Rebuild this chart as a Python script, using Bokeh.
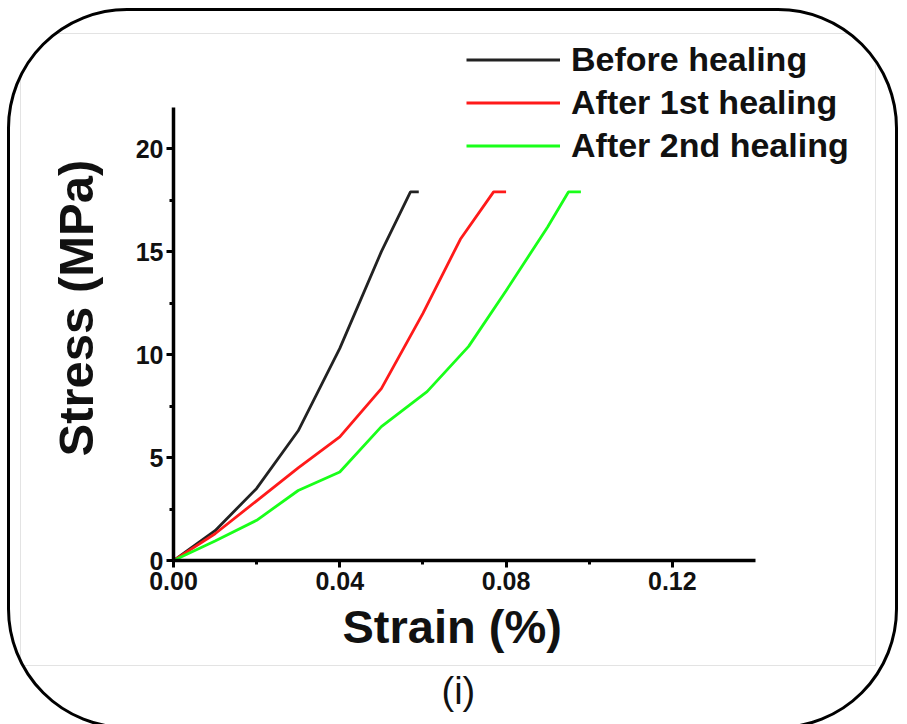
from bokeh.plotting import figure
from bokeh.models import (Range1d, FixedTicker, NumeralTickFormatter, Legend, LegendItem, Title,
                          GlobalInlineStyleSheet)
from bokeh.embed import file_html
from bokeh.resources import INLINE

# ---- data ----
before_x = [0.0, 0.010, 0.020, 0.030, 0.040, 0.050, 0.057, 0.059]
before_y = [0.0, 1.45, 3.5, 6.3, 10.3, 15.0, 17.9, 17.9]

first_x = [0.0, 0.010, 0.020, 0.030, 0.040, 0.050, 0.060, 0.069, 0.077, 0.080]
first_y = [0.0, 1.3, 2.9, 4.5, 6.0, 8.35, 12.0, 15.6, 17.9, 17.9]

second_x = [0.0, 0.010, 0.020, 0.030, 0.040, 0.050, 0.061, 0.071, 0.080, 0.090, 0.095, 0.098]
second_y = [0.0, 0.95, 1.95, 3.4, 4.3, 6.5, 8.2, 10.4, 13.1, 16.2, 17.9, 17.9]

series_names = ["Before healing", "After 1st healing", "After 2nd healing"]
series_colors = ["#222222", "#ff1a1a", "#19ff19"]

x_ticks = [0.0, 0.04, 0.08, 0.12]
x_minor = [0.02, 0.06, 0.10]
y_ticks = [0, 5, 10, 15, 20]
y_minor = [2.5, 7.5, 12.5, 17.5]
x_axis_end = 0.14
y_axis_end = 22

FONT = "Liberation Sans"

# ---- layout (pixels in the figure canvas) ----
W, H = 891, 721
FL, FR, FT, FB = 163, 875, 19, 549      # frame edges
AX_RIGHT_PX = 745                         # where x = 0.14 lies
AX_TOP_PX = 96                            # where y = 22 lies
x_end = x_axis_end * (FR - FL) / (AX_RIGHT_PX - FL)
y_end = y_axis_end * (FB - FT) / (FB - AX_TOP_PX)

edge = "#e3e3e3"
bg = ", ".join([
    f"linear-gradient({edge},{edge}) 10px 22px / 855px 1px no-repeat",
    f"linear-gradient({edge},{edge}) 10px 654px / 855px 1px no-repeat",
    f"linear-gradient({edge},{edge}) 10px 22px / 1px 632px no-repeat",
    f"linear-gradient({edge},{edge}) 865px 22px / 1px 633px no-repeat",
])

p = figure(width=W, height=H, output_backend="svg", toolbar_location=None,
           x_range=Range1d(0, x_end), y_range=Range1d(0, y_end),
           min_border_left=FL, min_border_right=W - FR, min_border_top=FT,
           min_border_bottom=H - FB,
           styles={"border": "3px solid black", "border-radius": "120px",
                   "margin-left": "7px", "margin-top": "8px", "background": bg})
p.stylesheets = [GlobalInlineStyleSheet(css="html, body { overflow: hidden !important; }")]
p.grid.visible = False
p.outline_line_color = None
p.background_fill_alpha = 0
p.border_fill_alpha = 0

for ax in (p.xaxis[0], p.yaxis[0]):
    ax.axis_line_width = 3.5
    ax.axis_line_color = "black"
    ax.major_tick_line_width = 3
    ax.minor_tick_line_width = 3
    ax.major_tick_in = 0
    ax.major_tick_out = 7
    ax.minor_tick_in = 0
    ax.minor_tick_out = 4
    ax.major_label_text_font = FONT
    ax.major_label_text_font_style = "bold"
    ax.major_label_text_font_size = "25px"
    ax.major_label_text_color = "#111111"

p.xaxis[0].ticker = FixedTicker(ticks=x_ticks, minor_ticks=x_minor)
p.xaxis[0].formatter = NumeralTickFormatter(format="0.00")
p.xaxis[0].bounds = (0, x_axis_end)
p.xaxis[0].major_label_standoff = 4

p.yaxis[0].ticker = FixedTicker(ticks=y_ticks, minor_ticks=y_minor)
p.yaxis[0].bounds = (0, y_axis_end)
p.yaxis[0].major_label_standoff = 3

# axis titles placed as side titles so they centre on the drawn axes
p.add_layout(Title(text="Strain (%)", align="left", offset=169, standoff=10,
                   text_font=FONT, text_font_style="bold", text_font_size="47px",
                   text_color="#111111"), "below")
p.add_layout(Title(text="(i)", align="left", offset=268, standoff=20,
                   text_font=FONT, text_font_style="normal", text_font_size="38px",
                   text_color="#111111"), "below")
p.add_layout(Title(text="Stress (MPa)", align="left", offset=104, standoff=60,
                   text_font=FONT, text_font_style="bold", text_font_size="49px",
                   text_color="#111111"), "left")

xs = [before_x, first_x, second_x]
ys = [before_y, first_y, second_y]
items = []
for name, color, x, y in zip(series_names, series_colors, xs, ys):
    r = p.line(x, y, line_color=color, line_width=2.8)
    items.append(LegendItem(label=name, renderers=[r]))

legend = Legend(items=items, location=(293, 393),
                label_text_font=FONT, label_text_font_style="bold",
                label_text_font_size="34px", label_text_color="#111111",
                glyph_width=94, glyph_height=43, label_height=43, spacing=0,
                label_standoff=11, padding=0, margin=0,
                background_fill_alpha=0, border_line_color=None)
p.add_layout(legend, "center")

open("out.html", "w").write(file_html(p, INLINE))
